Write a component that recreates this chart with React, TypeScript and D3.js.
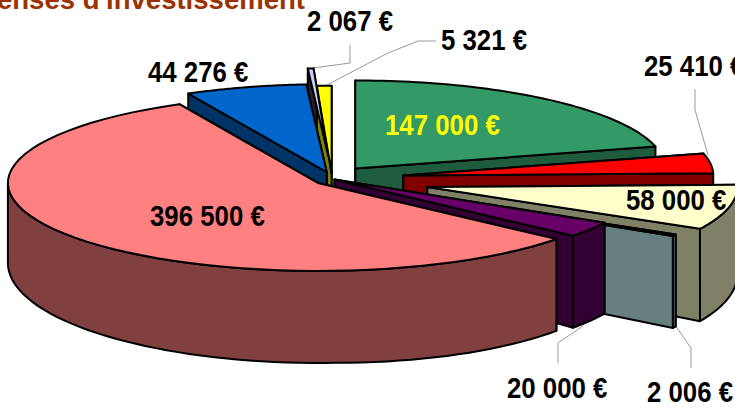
import * as d3 from "d3";

const names = ["Vert", "Rouge", "Crème", "Bleu clair", "Violet", "Saumon", "Bleu", "Lavande", "Jaune"];
const values = [147000, 25410, 58000, 2006, 20000, 396500, 44276, 2067, 5321];
const topColors = ["#339966", "#ff0000", "#ffffcc", "#ccffff", "#660066", "#ff8080", "#0066cc", "#ccccff", "#ffff00"];
const wallColors = ["#1f5c3d", "#800000", "#808066", "#668080", "#330033", "#804040", "#003366", "#222233", "#808000"];
const explode = [38, 72, 98, 81, 3, 18, 20, 65, 15];
// back slices first, pink one last. the lavender strip sits on top of the blue
const drawOrder = [7, 8, 6, 0, 1, 2, 3, 4, 5];
const lavender = 7;

const labelX = [385, 644, 626, 647, 507, 150, 148, 307, 441];
const labelY = [135, 76, 210, 402, 398, 226, 82, 31, 50];
const leaders = [
  "M313,68L350,63L350,45",
  "M323,87L388,53L418,41L436,41",
  "M708,155L695,110L695,89",
  "M583,326L558,343L558,363",
  "M675,325L691,348L691,368",
];

const width = 735;
const height = 410;
const cx = 332;
const cy = 179;
const rx = 310;
const ryTop = 88;
const ryBottom = 100;
const depth = 80;
const depthGrowth = 0.018; // walls get taller towards the right
const explodeTilt = 0.35;

const euro = d3.formatLocale({ decimal: ",", thousands: " ", grouping: [3], currency: ["", " €"] }).format("$,.0f");

const slices = d3.pie<number>().sort(null).startAngle(0).endAngle(2 * Math.PI)(values);
const line = d3.line();

function build(i: number) {
  const { startAngle: a0, endAngle: a1 } = slices[i];
  const mid = (a0 + a1) / 2;
  const ox = cx + Math.sin(mid) * explode[i];
  const oy = cy - Math.cos(mid) * explode[i] * explodeTilt;
  const top = (a: number): [number, number] => [ox + rx * Math.sin(a), oy - ryTop * Math.cos(a)];
  const bottom = (a: number): [number, number] => {
    const x = ox + rx * Math.sin(a);
    return [x, oy + depth + Math.max(0, x - cx) * depthGrowth - ryBottom * Math.cos(a)];
  };
  const steps = (from: number, to: number) => d3.range(0, 61).map((k) => from + ((to - from) * k) / 60);
  const apex: [number, number] = [ox, oy];
  const apexLow: [number, number] = [ox, oy + depth];
  const radial = (a: number) => line([apex, top(a), bottom(a), apexLow])! + "Z";
  const walls = mid < Math.PI ? [radial(a0), radial(a1)] : [radial(a1), radial(a0)];
  const f0 = Math.max(a0, Math.PI / 2);
  const f1 = Math.min(a1, (3 * Math.PI) / 2);
  const rim =
    f1 > f0 ? line([...steps(f0, f1).map(top), ...steps(f1, f0).map(bottom)])! + "Z" : null;
  const surface = line([apex, ...steps(a0, a1).map(top)])! + "Z";
  return { walls, rim, surface };
}

export default function App() {
  return (
    <svg
      width={width}
      height={height}
      style={{ position: "absolute", left: 0, top: 0, background: "#fff" }}
      fontFamily="'Liberation Sans', Arial, sans-serif"
      fontWeight="bold"
    >
      <text transform="translate(305,9) scale(1.02,1)" textAnchor="end" fontSize={27} fill="#993300">
        Dépenses d'investissement
      </text>
      {leaders.map((d) => (
        <path key={d} d={d} fill="none" stroke="#999" strokeWidth={1} />
      ))}
      {drawOrder.map((i) => {
        const s = build(i);
        return (
          <g key={names[i]} stroke="#000" strokeWidth={2} strokeLinejoin="round">
            {s.walls.map((d, k) => (
              <path key={k} d={d} fill={wallColors[i]} />
            ))}
            {s.rim && <path d={s.rim} fill={wallColors[i]} />}
            {i !== lavender && <path d={s.surface} fill={topColors[i]} />}
          </g>
        );
      })}
      <path d={build(lavender).surface} fill={topColors[lavender]} stroke="#000" strokeWidth={2} />
      {values.map((v, i) => (
        <text
          key={names[i]}
          transform={`translate(${labelX[i]},${labelY[i]}) scale(0.86,1)`}
          fontSize={30}
          fill={i === 0 ? "#ffff00" : "#000"}
        >
          {euro(v)}
        </text>
      ))}
    </svg>
  );
}
